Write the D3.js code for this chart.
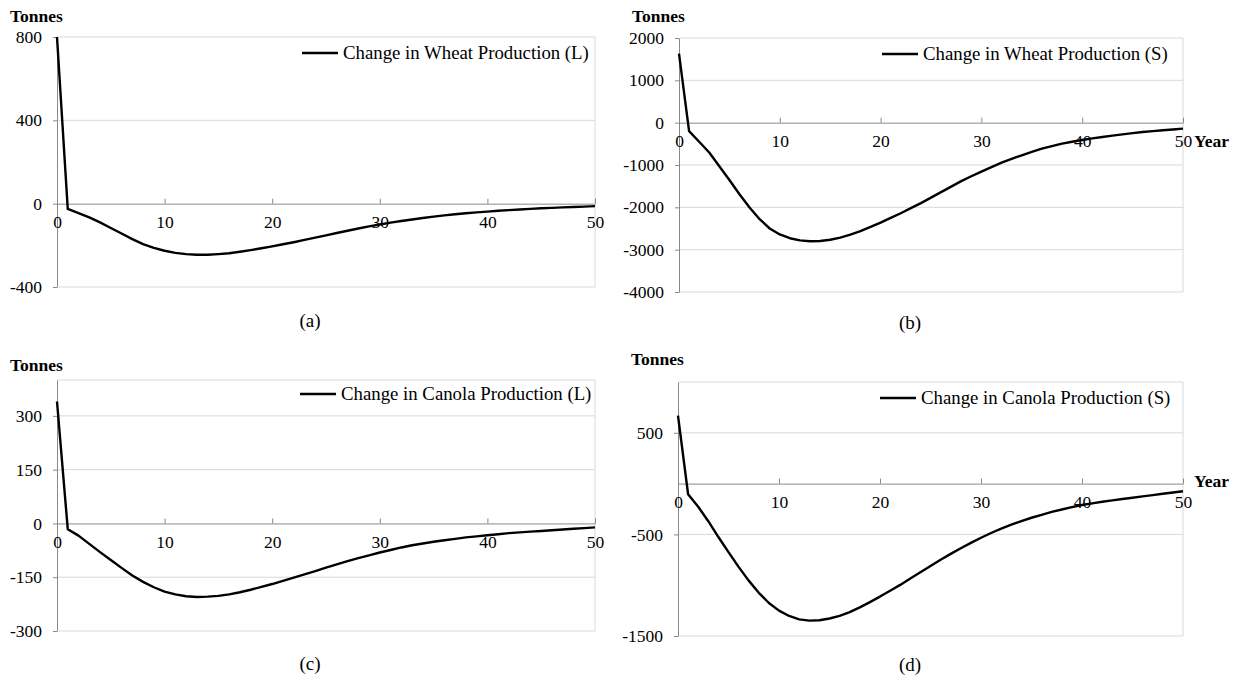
<!DOCTYPE html>
<html>
<head>
<meta charset="utf-8">
<script src="https://cdn.jsdelivr.net/npm/d3@7"></script>
<style>
  body { margin: 0; background: #fff; }
  text { font-family: "Liberation Serif", "Times New Roman", serif; fill: #000; }
</style>
</head>
<body>
<svg id="chart" width="1238" height="681"></svg>
<script>
// years on the x axis
const years = d3.range(0, 51);

// change in production, tonnes (years 0..50)
const wheatL = [800, -25, -45, -66, -90, -117, -143, -170, -194, -212,
  -226, -236, -242, -245, -245, -242, -238, -231, -223, -214,
  -205, -195, -185, -174, -163, -152, -141, -130, -119, -109,
  -100, -91, -83, -76, -69, -62, -56, -51, -46, -42,
  -38, -34, -31, -28, -25, -22, -20, -18, -16, -14, -12];

const wheatS = [1630, -200, -450, -705, -1030, -1355, -1690, -2005, -2280, -2500,
  -2640, -2730, -2780, -2800, -2795, -2765, -2715, -2645, -2560, -2460,
  -2360, -2250, -2140, -2020, -1900, -1770, -1640, -1510, -1380, -1265,
  -1155, -1050, -945, -855, -770, -690, -615, -555, -495, -450,
  -410, -372, -338, -305, -276, -248, -222, -200, -180, -160, -140];

const canolaL = [340, -16, -34, -57, -80, -102, -124, -145, -163, -178,
  -190, -198, -203, -205, -204, -202, -198, -192, -185, -177,
  -169, -160, -151, -142, -133, -123, -114, -105, -97, -89,
  -81, -74, -67, -61, -56, -51, -47, -43, -39, -36,
  -33, -30, -27, -25, -23, -21, -19, -17, -15, -13, -11];

const canolaS = [670, -105, -228, -370, -526, -674, -820, -955, -1075, -1175,
  -1250, -1303, -1336, -1349, -1345, -1328, -1302, -1265, -1218, -1166,
  -1112, -1055, -997, -935, -873, -811, -750, -692, -636, -583,
  -533, -486, -443, -404, -369, -336, -307, -279, -255, -232,
  -211, -194, -179, -165, -152, -139, -126, -113, -100, -88, -75];

// axis ticks and ranges
const xTicks = [0, 10, 20, 30, 40, 50];
const ticksWheatL = [-400, 0, 400, 800];
const ticksWheatS = [-4000, -3000, -2000, -1000, 0, 1000, 2000];
const ticksCanolaL = [-300, -150, 0, 150, 300];
const ticksCanolaS = [-1500, -500, 500];
const domWheatL = [-400, 800];
const domWheatS = [-4000, 2000];
const domCanolaL = [-300, 400];
const domCanolaS = [-1500, 1000];

const seriesNames = [
  "Change in Wheat Production (L)",
  "Change in Wheat Production (S)",
  "Change in Canola Production (L)",
  "Change in Canola Production (S)"
];
const captions = ["(a)", "(b)", "(c)", "(d)"];

const svg = d3.select("#chart");
const axisColor = "#898989";
const gridColor = "#d9d9d9";
const serif = "'Liberation Serif', 'Times New Roman', serif";

const panels = [
  { values: wheatL, ticks: ticksWheatL, domain: domWheatL, name: seriesNames[0], cap: captions[0],
    left: 57, right: 595, top: 37, bottom: 287, unitY: 22, legX: 302, legY: 53, capX: 310, capY: 327, year: null },
  { values: wheatS, ticks: ticksWheatS, domain: domWheatS, name: seriesNames[1], cap: captions[1],
    left: 679, right: 1183, top: 38, bottom: 292, unitY: 22, legX: 882, legY: 54, capX: 910, capY: 329, year: 147 },
  { values: canolaL, ticks: ticksCanolaL, domain: domCanolaL, name: seriesNames[2], cap: captions[2],
    left: 57, right: 595, top: 380, bottom: 631, unitY: 371, legX: 300, legY: 394, capX: 310, capY: 670, year: null },
  { values: canolaS, ticks: ticksCanolaS, domain: domCanolaS, name: seriesNames[3], cap: captions[3],
    left: 678, right: 1183, top: 382, bottom: 636, unitY: 365, legX: 880, legY: 398, capX: 910, capY: 671, year: 487 }
];

function drawPanel(p) {
  const g = svg.append("g");
  const x = d3.scaleLinear().domain([0, 50]).range([p.left, p.right]);
  const y = d3.scaleLinear().domain(p.domain).range([p.bottom, p.top]);

  // gridlines + top border
  const gridVals = p.ticks.filter(v => v !== 0);
  if (gridVals.indexOf(p.domain[1]) < 0) gridVals.push(p.domain[1]);
  g.selectAll(".grid").data(gridVals).join("line")
    .attr("x1", p.left).attr("x2", p.right)
    .attr("y1", d => y(d)).attr("y2", d => y(d))
    .attr("stroke", gridColor).attr("stroke-width", 1);
  // right border
  g.append("line")
    .attr("x1", p.right).attr("x2", p.right)
    .attr("y1", p.top).attr("y2", p.bottom)
    .attr("stroke", gridColor).attr("stroke-width", 1);

  // y axis
  const ya = g.append("g")
    .attr("transform", "translate(" + p.left + ",0)")
    .call(d3.axisLeft(y).tickValues(p.ticks).tickSizeInner(4).tickSizeOuter(0)
      .tickPadding(11).tickFormat(d => String(d)));
  ya.attr("font-family", serif).attr("font-size", 17.5);
  ya.select(".domain").attr("stroke", axisColor);
  ya.selectAll(".tick line").attr("stroke", axisColor);

  // x axis at zero
  const xa = g.append("g")
    .attr("transform", "translate(0," + y(0) + ")")
    .call(d3.axisBottom(x).tickValues(xTicks).tickSizeInner(-5).tickSizeOuter(0)
      .tickPadding(12).tickFormat(d => String(d)));
  xa.attr("font-family", serif).attr("font-size", 17.5);
  xa.select(".domain").attr("stroke", axisColor);
  xa.selectAll(".tick line").attr("stroke", axisColor);

  // the series
  const line = d3.line()
    .x((d, i) => x(years[i]))
    .y(d => y(d));
  g.append("path")
    .datum(p.values)
    .attr("d", line)
    .attr("fill", "none")
    .attr("stroke", "#000")
    .attr("stroke-width", 2.4)
    .attr("stroke-linejoin", "round");

  // legend
  g.append("line")
    .attr("x1", p.legX).attr("x2", p.legX + 36)
    .attr("y1", p.legY).attr("y2", p.legY)
    .attr("stroke", "#000").attr("stroke-width", 2.5);
  g.append("text")
    .attr("x", p.legX + 41).attr("y", p.legY + 6)
    .attr("font-size", 18.8)
    .text(p.name);

  // unit label
  g.append("text")
    .attr("x", p.left - 47).attr("y", p.unitY)
    .attr("font-size", 17.5).attr("font-weight", "bold")
    .text("Tonnes");

  if (p.year !== null) {
    g.append("text")
      .attr("x", p.right + 11).attr("y", p.year)
      .attr("font-size", 17.5).attr("font-weight", "bold")
      .text("Year");
  }

  // caption
  g.append("text")
    .attr("x", p.capX).attr("y", p.capY)
    .attr("text-anchor", "middle")
    .attr("font-size", 19)
    .text(p.cap);
}

panels.forEach(drawPanel);
</script>
</body>
</html>
